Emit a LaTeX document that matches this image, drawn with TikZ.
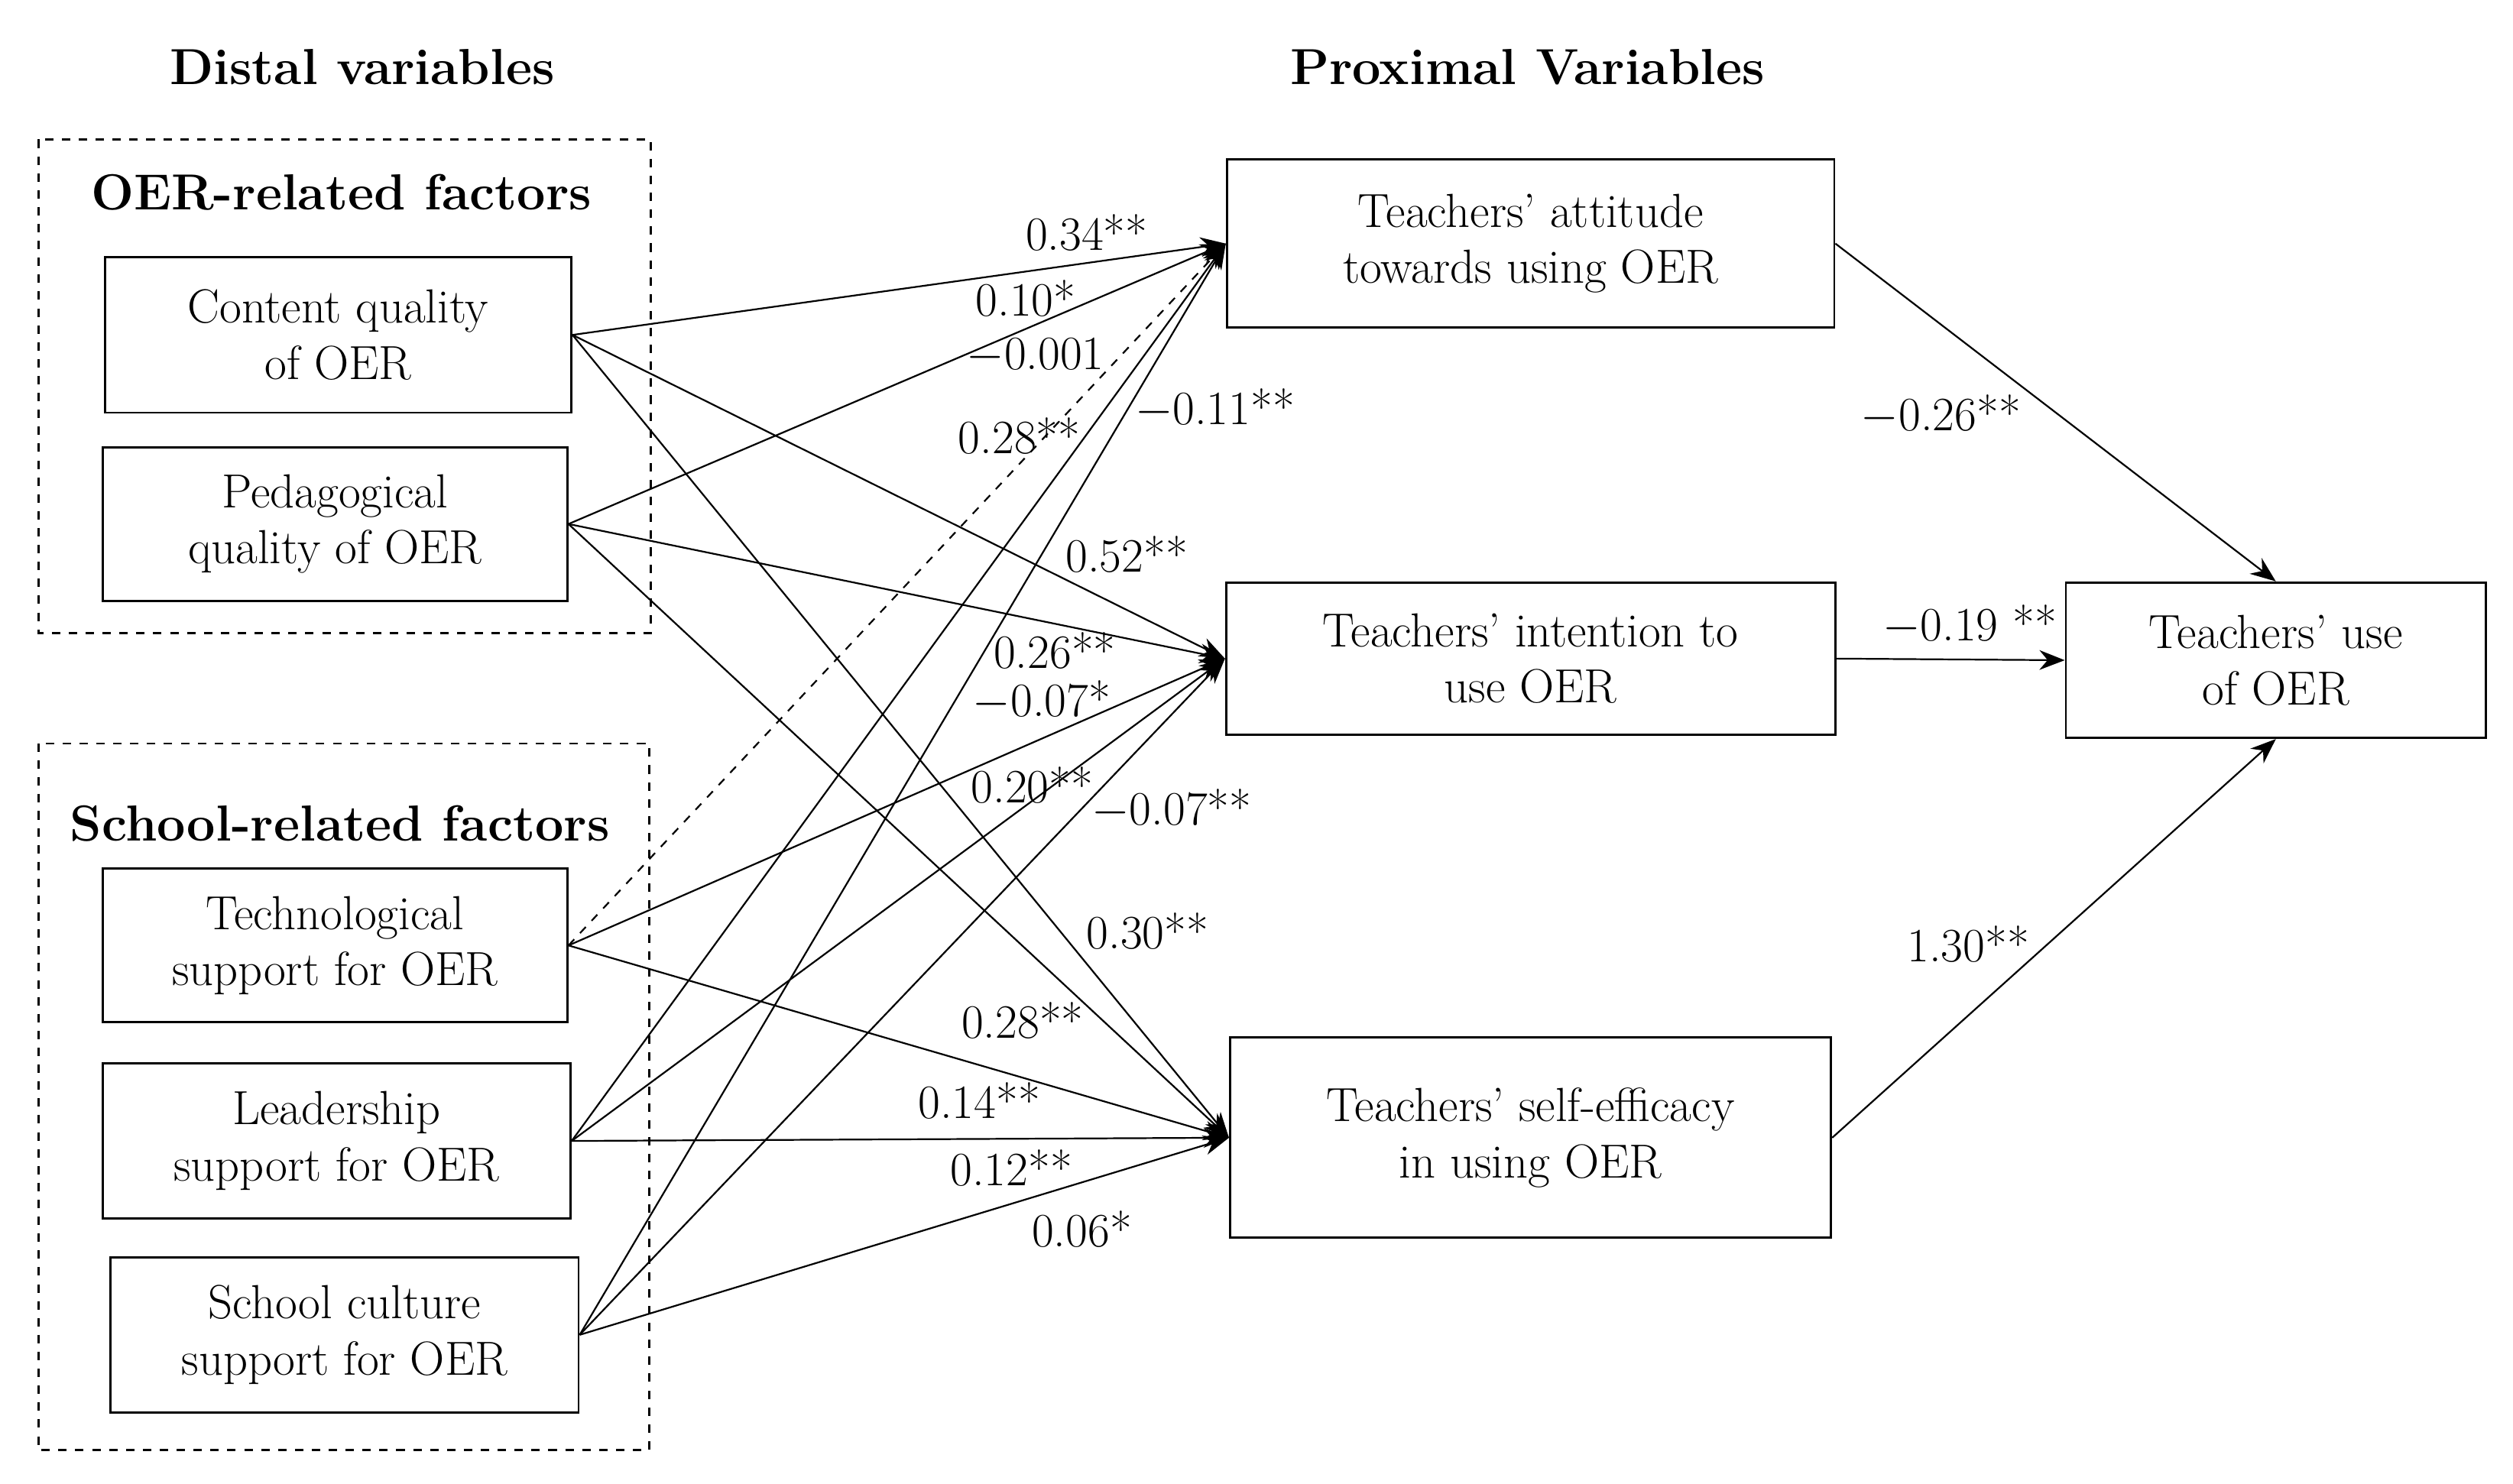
\documentclass[tikz,border=0pt]{standalone}
\usetikzlibrary{arrows.meta}
\begin{document}
\begin{tikzpicture}[font=\fontsize{17}{20}\selectfont,
  box/.style={draw,thick,align=center,inner sep=0pt},
  group/.style={draw,dashed,thick},
  head/.style={font=\fontsize{18}{21}\selectfont\bfseries},
  path/.style={->,>={Stealth[length=9pt,width=7pt]},semithick},
  lbl/.style={inner sep=0pt}]
\useasboundingbox (0,0) rectangle (31.36,-18.52);
% groups
\draw[group] (0.48,-1.74) rectangle (8.12,-7.9);
\draw[group] (0.48,-9.28) rectangle (8.1,-18.1);
\node[head] (hdist) at (4.52,-0.84) {Distal variables};
\node[head] (hprox) at (19.06,-0.84) {Proximal Variables};
\node[head] (hoer) at (4.26,-2.4) {OER-related factors};
\node[head] (hsch) at (4.24,-10.28) {School-related factors};
% distal
\node[box,minimum width=5.82cm,minimum height=1.94cm] (content) at (4.22,-4.18) {Content quality\\of OER};
\node[box,minimum width=5.8cm,minimum height=1.92cm] (ped) at (4.18,-6.54) {Pedagogical\\quality of OER};
\node[box,minimum width=5.8cm,minimum height=1.92cm] (tech) at (4.18,-11.8) {Technological\\support for OER};
\node[box,minimum width=5.84cm,minimum height=1.94cm] (lead) at (4.2,-14.24) {Leadership\\support for OER};
\node[box,minimum width=5.84cm,minimum height=1.94cm] (cult) at (4.3,-16.66) {School culture\\support for OER};
% proximal
\node[box,minimum width=7.58cm,minimum height=2.1cm] (att) at (19.1,-3.04) {Teachers' attitude\\towards using OER};
\node[box,minimum width=7.6cm,minimum height=1.9cm] (int) at (19.1,-8.22) {Teachers' intention to\\use OER};
\node[box,minimum width=7.5cm,minimum height=2.5cm] (eff) at (19.1,-14.2) {Teachers' self-efficacy\\in using OER};
\node[box,minimum width=5.24cm,minimum height=1.94cm] (use) at (28.4,-8.24) {Teachers' use\\of OER};
% paths
\foreach \s in {content,ped,lead,cult}
  \draw[path] (\s.east) -- (att.west);
\draw[path,dashed] (tech.east) -- (att.west);
\foreach \s in {content,ped,tech,lead,cult}{
  \draw[path] (\s.east) -- (int.west);
  \draw[path] (\s.east) -- (eff.west);
}
\draw[path] (att.east) -- (use.north);
\draw[path] (int.east) -- (use.west);
\draw[path] (eff.east) -- (use.south);
% coefficients
\node[lbl] (l1) at (13.56,-2.9) {0.34**};
\node[lbl] (l2) at (12.8,-3.72) {0.10*};
\node[lbl] (l3) at (12.92,-4.44) {$-$0.001};
\node[lbl] (l4) at (12.72,-5.44) {0.28**};
\node[lbl] (l5) at (15.16,-5.1) {$-$0.11**};
\node[lbl] (l6) at (14.06,-6.92) {0.52**};
\node[lbl] (l7) at (13.16,-8.12) {0.26**};
\node[lbl] (l8) at (13.0,-8.74) {$-$0.07*};
\node[lbl] (l9) at (12.88,-9.8) {0.20**};
\node[lbl] (l10) at (14.62,-10.1) {$-$0.07**};
\node[lbl] (l11) at (14.32,-11.62) {0.30**};
\node[lbl] (l12) at (12.76,-12.74) {0.28**};
\node[lbl] (l13) at (12.22,-13.74) {0.14**};
\node[lbl] (l14) at (12.62,-14.58) {0.12**};
\node[lbl] (l15) at (13.5,-15.34) {0.06*};
\node[lbl] (l16) at (24.22,-5.18) {$-$0.26**};
\node[lbl] (l17) at (24.58,-7.8) {$-$0.19 **};
\node[lbl] (l18) at (24.56,-11.78) {1.30**};
\end{tikzpicture}
\end{document}
